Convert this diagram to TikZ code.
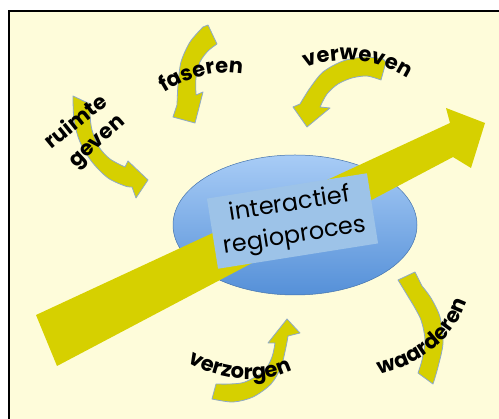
\documentclass[tikz,border=0pt]{standalone}
\usepackage{fontspec}
\setmainfont{Poppins}
\usetikzlibrary{decorations.text}

\definecolor{paper}{HTML}{FEFCDA}
\definecolor{olive}{HTML}{D6D000}
\definecolor{steel}{HTML}{8EA9C8}
\definecolor{skytop}{HTML}{A8CCF6}
\definecolor{skybot}{HTML}{5590D8}
\definecolor{boxblue}{HTML}{9DC3E8}

\newcommand\lblfont{\fontsize{21}{21}\selectfont\bfseries}

\tikzset{
  curvarrow/.style={fill=olive, draw=steel, line width=0.8pt, line join=round},
  bigarrow/.style={fill=olive},
  curvlabel/.style={decorate, decoration={text along path, text align=center, text color=black}},
}

\begin{document}
\begin{tikzpicture}[x=1pt, y=-1pt]
  \useasboundingbox (0,0) rectangle (499,419);
  \fill[white] (0,0) rectangle (499,419);

  % framed paper background
  \filldraw[fill=paper, draw=black, line width=1.4pt] (9,11) rectangle (510,430);

  % central ellipse
  \shade[top color=skytop, bottom color=skybot, draw=skybot!80!black, line width=0.5pt]
    (295,225) ellipse [x radius=122, y radius=70];

  % large straight arrow across the ellipse
  \fill[bigarrow] (36,315) -- (450,123) -- (446,108) -- (485,123) -- (471,168)
    -- (453,157) -- (57,366) -- cycle;

  % label box
  \node[fill=boxblue, rotate=9, minimum width=162pt, minimum height=71pt,
        align=center, font=\fontsize{24}{32}\selectfont, inner sep=0pt]
    (proc) at (292.5,221) {interactief\\regioproces};

  % curved arrows around the process
  \filldraw[curvarrow] (208,25) -- plot[smooth] coordinates {(203,27) (190,42) (181,62) (178,85) (177,105)}
    -- (173,117) -- (195,123) -- (203,92) -- (196,95)
    -- plot[smooth] coordinates {(196,95) (196,78) (200,62) (208,51) (217,44)} -- cycle;

  \filldraw[curvarrow] (386,62) -- plot[smooth] coordinates {(383,59) (365,57) (343,61) (323,72) (310,88) (300,104)}
    -- (293,107) -- (307,127) -- (330,108) -- (320,107)
    -- plot[smooth] coordinates {(320,107) (327,94) (338,84) (352,78) (367,76) (381,80)} -- cycle;

  \filldraw[curvarrow] plot[smooth] coordinates {(73,96) (74,120) (80,142) (92,162) (108,178) (125,186) (132,187)}
    -- (136,198) -- (148,180) -- (128,161) -- (125,167)
    -- plot[smooth] coordinates {(125,167) (110,159) (99,147) (92,130) (90,115) (90,104)} -- cycle;

  \filldraw[curvarrow] plot[smooth] coordinates {(212,399) (233,402) (253,397) (271,384) (281,367) (286,347) (288,336)}
    -- (300,333) -- (287,319) -- (268,343) -- (275,343)
    -- plot[smooth] coordinates {(275,343) (272,357) (264,371) (245,382) (230,384) (216,384)} -- cycle;

  \filldraw[curvarrow] plot[smooth] coordinates {(433,384) (438,367) (443,343) (440,317) (431,298) (422,286)}
    -- (415,272) -- (398,280) -- (412,303)
    -- plot[smooth] coordinates {(412,303) (421,320) (425,340) (422,360) (418,373)} -- cycle;

  % curved labels
  \path[curvlabel, decoration={text={|\lblfont|faseren}}]
    (156,98) .. controls (182,80) and (215,66) .. (252,76);
  \path[curvlabel, decoration={text={|\lblfont|verweven}}]
    (298,71) .. controls (330,55) and (375,55) .. (414,83);
  \path[curvlabel, decoration={text={|\lblfont|ruimte}}]
    (44,156) .. controls (67,137) and (90,118) .. (117,99);
  \path[curvlabel, decoration={text={|\lblfont|geven}}]
    (68,176) .. controls (90,156) and (110,136) .. (134,116);
  \path[curvlabel, decoration={text={|\lblfont|verzorgen}}]
    (177,354) .. controls (205,378) and (262,392) .. (304,363);
  \path[curvlabel, decoration={text={|\lblfont|waarderen}}]
    (366,377) .. controls (412,370) and (458,345) .. (471,288);
\end{tikzpicture}
\end{document}
